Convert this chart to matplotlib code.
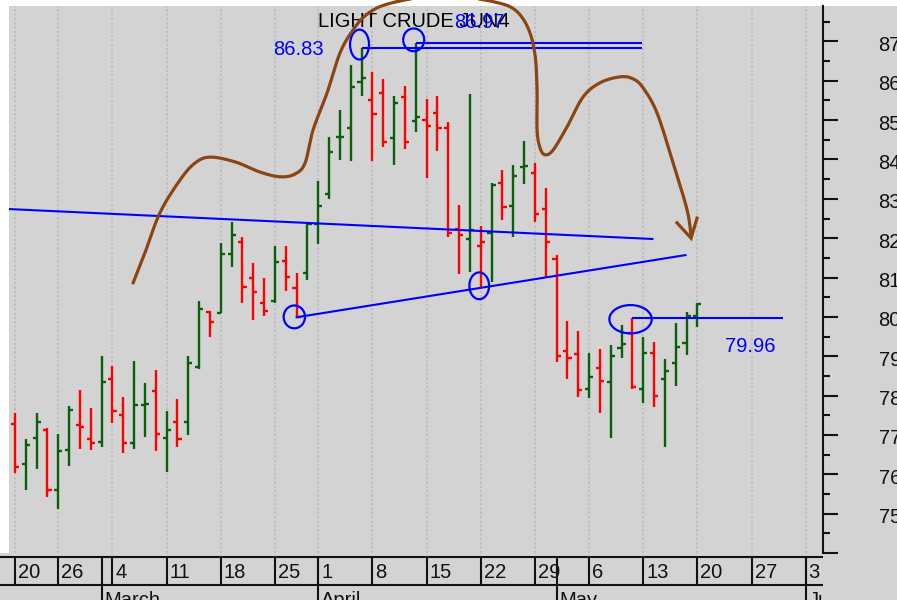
import numpy as np
import matplotlib
matplotlib.use("Agg")
import matplotlib.pyplot as plt
from matplotlib.patches import Ellipse, Rectangle
from matplotlib.transforms import offset_copy, ScaledTranslation

plt.rcParams["font.family"] = ["Liberation Sans", "DejaVu Sans"]

# ---- daily OHLC, Light Crude June contract ----
opens = [77.28, 76.26, 76.93, 77.13, 75.60, 76.62, 77.24, 76.90, 76.83, 78.42,
         77.51, 76.80, 77.76, 78.12, 76.93, 77.32, 77.32, 78.72, 80.13, 80.11,
         81.60, 81.91, 80.98, 80.36, 80.41, 81.42, 80.74, 81.11, 82.35, 83.12,
         84.56, 84.81, 85.96, 85.51, 85.70, 84.54, 85.60, 84.99, 85.01, 85.18,
         84.81, 82.23, 81.98, 81.80, 82.13, 83.40, 82.83, 83.80, 83.65, 82.74,
         81.47, 79.13, 79.05, 78.16, 78.70, 78.34, 79.22, 79.58, 78.16, 79.09,
         78.42, 78.84, 79.33, 80.01]
highs = [77.55, 76.89, 77.55, 77.17, 77.03, 77.74, 78.13, 77.69, 79.01, 78.75,
         77.96, 78.88, 78.31, 78.65, 77.61, 77.91, 79.01, 80.41, 80.16, 81.87,
         82.40, 82.02, 81.38, 80.98, 81.81, 81.79, 81.12, 82.42, 83.45, 84.56,
         85.26, 86.40, 86.83, 86.23, 86.05, 85.62, 85.87, 86.97, 85.53, 85.62,
         84.95, 82.85, 85.66, 82.31, 83.40, 83.72, 83.86, 84.47, 83.90, 83.27,
         81.56, 79.90, 79.63, 79.09, 79.18, 79.29, 79.80, 79.96, 79.48, 79.35,
         78.92, 79.84, 80.13, 80.36]
lows = [76.03, 75.60, 76.13, 75.42, 75.11, 76.21, 76.64, 76.62, 76.69, 77.30,
        76.55, 76.64, 76.96, 76.60, 76.07, 76.69, 77.00, 78.68, 79.50, 80.11,
        81.28, 80.35, 79.92, 80.01, 80.36, 80.66, 79.99, 80.94, 81.85, 82.99,
        83.99, 83.95, 85.62, 83.95, 84.31, 83.86, 84.26, 84.71, 83.52, 84.22,
        82.02, 81.09, 81.13, 80.73, 80.88, 82.45, 82.02, 83.38, 82.41, 80.98,
        78.85, 78.42, 77.97, 77.93, 77.57, 76.92, 78.95, 78.16, 77.81, 77.70,
        76.70, 78.25, 79.03, 79.75]
closes = [76.18, 76.75, 77.32, 75.60, 76.58, 77.64, 77.20, 76.79, 78.34, 77.61,
          76.80, 77.76, 77.78, 77.02, 77.13, 76.90, 78.82, 80.19, 79.88, 81.60,
          82.08, 80.77, 80.63, 80.15, 81.40, 81.02, 79.99, 82.36, 82.82, 84.18,
          84.58, 85.83, 86.08, 85.16, 84.44, 85.44, 84.44, 85.07, 84.86, 84.81,
          82.13, 82.08, 82.21, 81.91, 83.35, 82.78, 83.59, 83.84, 82.62, 81.91,
          79.01, 78.96, 78.13, 78.47, 78.38, 79.01, 79.30, 78.23, 79.09, 77.99,
          78.63, 79.23, 80.02, 80.32]

# ---- time axis: weekly ticks and month boundaries (bar indices) ----
week_pos = [0, 4, 9, 14, 19, 24, 28, 33, 38, 43, 48, 53, 58, 63, 68, 73]
week_labels = ["20", "26", "4", "11", "18", "25", "1", "8", "15", "22", "29",
               "6", "13", "20", "27", "3"]
month_pos = [8, 28, 50, 73]
month_labels = ["March", "April", "May", "June"]

price_ticks = list(range(74, 88))
price_labels = ["" if t == 74 else str(t) for t in price_ticks]

# ---- hand-drawn study levels ----
high_1, high_1_bar = 86.83, 32
high_2, high_2_bar = 86.97, 37
level_end = 57.9
support, support_bar, support_end = 79.96, 57, 70.9
falling_line = ([-0.55, 58.85], [82.74, 81.98])
rising_line = ([26, 61.9], [79.99, 81.57])
# (bar, price, width in bars, height in price)
circles = [(31.81, 86.92, 1.75, 0.76), (36.81, 87.04, 1.94, 0.58),
           (25.79, 80.00, 1.97, 0.58), (42.86, 80.79, 1.82, 0.68),
           (56.83, 79.94, 3.91, 0.72)]
forecast_path = [(10.90, 80.86), (12.00, 81.63), (13.39, 82.65), (15.24, 83.48),
                 (16.62, 83.91), (18.01, 84.06), (20.31, 83.94), (22.62, 83.68),
                 (24.47, 83.56), (25.85, 83.63), (26.78, 83.91), (27.52, 84.75),
                 (28.81, 85.69), (30.01, 86.71), (31.21, 87.29), (32.41, 87.67),
                 (34.16, 87.93), (37.40, 88.11), (41.09, 88.13), (44.32, 88.00),
                 (46.17, 87.80), (47.37, 87.34), (48.01, 86.66), (48.20, 85.77),
                 (48.20, 84.75), (48.48, 84.29), (48.94, 84.12), (49.68, 84.24),
                 (50.97, 84.83), (52.45, 85.59), (54.02, 85.95), (55.86, 86.10),
                 (57.06, 86.05), (57.99, 85.82), (59.28, 85.18), (60.76, 83.91),
                 (62.05, 82.72), (62.42, 82.05)]
arrow_head = [(61.12, 82.39), (62.42, 82.00), (62.97, 82.51)]

BG = "#d3d3d3"
UP = "#0a5f0a"
DOWN = "#ff0000"
BLUE = "#0000ff"
BROWN = "#8b4513"
INK = "#111111"
FS = 14.5

W, H = 897, 600
fig = plt.figure(figsize=(W / 100, H / 100), dpi=100, facecolor=BG)
fig.patches.append(Rectangle((0, 1 - 6 / H), 1, 6 / H, transform=fig.transFigure,
                             facecolor="white", edgecolor="none", zorder=-5))
fig.patches.append(Rectangle((0, 1 - 553 / H), 9 / W, 553 / H, transform=fig.transFigure,
                             facecolor="white", edgecolor="none", zorder=-5))

ax = fig.add_axes([9 / W, 1 - 553 / H, 814 / W, 547 / H], facecolor=BG)
XMIN, XMAX = -0.554, 74.6
ax.set_xlim(XMIN, XMAX)
ax.set_ylim(74.0, 87.9)

for side in ("left", "top", "bottom"):
    ax.spines[side].set_visible(False)
ax.spines["right"].set_color(INK)
ax.spines["right"].set_linewidth(1.5)

ax.yaxis.tick_right()
ax.set_yticks(price_ticks)
ax.set_yticklabels(price_labels)
ax.set_yticks(np.arange(74.5, 88.0, 1.0), minor=True)
ax.tick_params(axis="y", which="major", direction="out", length=11, width=1.5,
               pad=29, labelsize=FS, colors=INK)
ax.tick_params(axis="y", which="minor", direction="out", length=5, width=1.5, colors=INK)
# price labels sit a couple of pixels below their ticks
nudge = ScaledTranslation(0, -2 / 100, fig.dpi_scale_trans)
for lab in ax.get_yticklabels():
    lab.set_transform(lab.get_transform() + nudge)
ax.set_xticks(week_pos)
ax.tick_params(axis="x", length=0, labelbottom=False)
ax.set_axisbelow(True)
ax.grid(axis="x", color="#bcbcbc", linestyle=(0, (1.2, 1.2)), linewidth=1.3)

# ---- OHLC bars ----
o = np.array(opens); h = np.array(highs); l = np.array(lows); c = np.array(closes)
idx = np.arange(len(c))
prev = np.r_[o[0], c[:-1]]
cols = [UP if cc >= pp else DOWN for cc, pp in zip(c, prev)]
tick = 0.38
ax.vlines(idx, l, h, colors=cols, linewidth=1.7, zorder=3)
ax.hlines(o, idx - tick, idx, colors=cols, linewidth=1.7, zorder=3)
ax.hlines(c, idx, idx + tick, colors=cols, linewidth=1.7, zorder=3)

# ---- trend lines and levels ----
ax.plot(*falling_line, color=BLUE, lw=1.5, zorder=4)
ax.plot(*rising_line, color=BLUE, lw=1.5, zorder=4)
ax.hlines(high_1, high_1_bar, level_end, color=BLUE, lw=1.5, zorder=4)
ax.hlines(high_2, high_2_bar, level_end, color=BLUE, lw=1.5, zorder=4)
ax.hlines(support, support_bar, support_end, color=BLUE, lw=1.5, zorder=4)
for cx, cy, w, hh in circles:
    ax.add_patch(Ellipse((cx, cy), w, hh, fill=False, edgecolor=BLUE, lw=1.6, zorder=5))

ax.text(23.82, 86.66, f"{high_1:.2f}", color=BLUE, fontsize=FS, va="baseline", ha="left")
ax.text(65.56, 79.11, f"{support:.2f}", color=BLUE, fontsize=FS, va="baseline", ha="left")
ax.text(36.84, 87.36, "LIGHT CRUDE JUN4", color="black", fontsize=FS, va="baseline",
        ha="center", zorder=6)
ax.text(40.54, 87.34, f"{high_2:.2f}", color=BLUE, fontsize=FS, va="baseline", ha="left",
        zorder=7)


# ---- freehand forecast path ----
def smooth(points, n=14, yscale=3.63):
    pts = np.asarray(points, float) * [1.0, yscale]
    P = np.vstack([pts[0], pts, pts[-1]])
    out = []
    t = np.linspace(0, 1, n, endpoint=False)[:, None]
    for k in range(1, len(P) - 2):
        p0, p1, p2, p3 = P[k - 1], P[k], P[k + 1], P[k + 2]
        out.append(0.5 * (2 * p1 + (-p0 + p2) * t + (2 * p0 - 5 * p1 + 4 * p2 - p3) * t ** 2
                          + (-p0 + 3 * p1 - 3 * p2 + p3) * t ** 3))
    out.append(P[-2][None])
    res = np.vstack(out)
    return res[:, 0], res[:, 1] / yscale


sx, sy = smooth(forecast_path)
ax.plot(sx, sy, color=BROWN, lw=2.3, solid_capstyle="round", clip_on=False, zorder=8)
hx, hy = zip(*arrow_head)
ax.plot(hx, hy, color=BROWN, lw=2.3, solid_joinstyle="miter", clip_on=False, zorder=8)

# ---- date band below the plot ----
band = fig.add_axes([0, 0, 823 / W, 47 / H])
scale = (XMAX - XMIN) / 814
bx0 = XMIN - 9 * scale
band.set_xlim(bx0, XMAX)
band.set_ylim(600, 553)
band.set_axis_off()
band.hlines([557, 585], bx0, XMAX, color=INK, lw=1.5)
band.vlines(week_pos, 557, 585, color=INK, lw=1.5)
band.vlines(month_pos, 557, 600, color=INK, lw=1.5)
shift = offset_copy(band.transData, fig=fig, x=3, y=0, units="dots")
for p, lab in zip(week_pos, week_labels):
    band.text(p, 577.5, lab, transform=shift, fontsize=FS, color=INK,
              va="baseline", ha="left", clip_on=True)
for p, lab in zip(month_pos, month_labels):
    band.text(p, 606, lab, transform=shift, fontsize=FS, color=INK,
              va="baseline", ha="left", clip_on=True)

fig.savefig("out.png", dpi=100, facecolor=BG)
